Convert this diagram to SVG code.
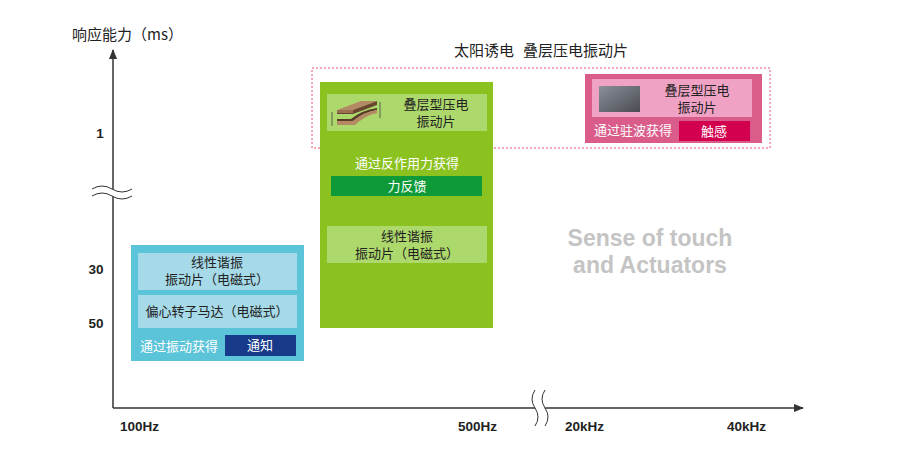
<svg xmlns="http://www.w3.org/2000/svg" width="900" height="450" viewBox="0 0 900 450">
<defs>
<style>
.cn{font-family:"Noto Sans CJK SC","Noto Sans",sans-serif;font-size:13px;fill:#222;}
.cnw{font-family:"Noto Sans CJK SC","Noto Sans",sans-serif;font-size:13px;fill:#fff;}
.big{font-size:15px;}
.ax{font-family:"Liberation Sans",Arial,sans-serif;font-size:13.5px;font-weight:bold;fill:#222;}
.wm{font-family:"Liberation Sans",Arial,sans-serif;font-size:23px;font-weight:bold;fill:#c4c4c4;}
.axis{stroke:#333;stroke-width:1.5;fill:none;}
.wave{stroke:#333;stroke-width:1;fill:none;}
</style>
<marker id="arr" viewBox="0 0 10 10" refX="9" refY="5" markerWidth="7" markerHeight="7" orient="auto-start-reverse">
<path d="M0,1 L10,5 L0,9 z" fill="#333"/>
</marker>
<linearGradient id="gsq" x1="0" y1="0" x2="1" y2="1">
<stop offset="0" stop-color="#8a8f99"/>
<stop offset="1" stop-color="#4a4c52"/>
</linearGradient>
</defs>
<rect width="900" height="450" fill="#fff"/>

<g id="axes">
<line class="axis" x1="113" y1="408" x2="113" y2="50" marker-end="url(#arr)"/>
<line class="axis" x1="113" y1="408" x2="803" y2="408" marker-end="url(#arr)"/>
<path d="M92,189 Q102,183 112,189 T132,189 L132,196 Q122,202 112,196 T92,196 Z" fill="#fff" stroke="none"/>
<path class="wave" d="M92,189 Q102,183 112,189 T132,189"/>
<path class="wave" d="M92,196 Q102,190 112,196 T132,196"/>
<path d="M535,390 Q529,399 535,408 T535,426 L545,426 Q539,417 545,408 T545,390 Z" fill="#fff" stroke="none"/>
<path class="wave" d="M535,390 Q529,399 535,408 T535,426"/>
<path class="wave" d="M545,390 Q539,399 545,408 T545,426"/>
<text x="72" y="40" class="cn big">响应能力（ms）</text>
<text x="100" y="138" class="ax" text-anchor="middle">1</text>
<text x="96" y="274" class="ax" text-anchor="middle">30</text>
<text x="96" y="328" class="ax" text-anchor="middle">50</text>
<text x="120" y="431" class="ax">100Hz</text>
<text x="458" y="431" class="ax">500Hz</text>
<text x="565" y="431" class="ax">20kHz</text>
<text x="727" y="431" class="ax">40kHz</text>
</g>

<g id="title">
<text x="454" y="56" class="cn big">太阳诱电</text>
<text x="523" y="56" class="cn big">叠层压电振动片</text>
<rect x="312" y="68" width="458" height="80" fill="none" stroke="#e8506e" stroke-width="1" stroke-dasharray="2,2"/>
</g>

<g id="blue-group">
<rect x="131" y="245" width="173" height="116" fill="#5bc4d8"/>
<rect x="138" y="253" width="159" height="37" fill="#a6dae8"/>
<text x="217" y="267" class="cn" text-anchor="middle">线性谐振</text>
<text x="217" y="284" class="cn" text-anchor="middle">振动片（电磁式）</text>
<rect x="138" y="295" width="159" height="33" fill="#a6dae8"/>
<text x="217" y="316" class="cn" text-anchor="middle">偏心转子马达（电磁式）</text>
<text x="140" y="351" class="cnw">通过振动获得</text>
<rect x="225" y="335" width="71" height="21" fill="#173a8a"/>
<text x="260" y="350" class="cnw" text-anchor="middle">通知</text>
</g>

<g id="green-group">
<rect x="320" y="82" width="173" height="246" fill="#8cc21f"/>
<rect x="327" y="94" width="160" height="37" fill="#add86c"/>
<g id="piezo-icon">
<path d="M337,110 L361,101 L377,101 L353,110 Z" fill="#b48a64"/>
<path d="M337,110 L353,110 L377,101 L377,105 L353,114 L337,114 Z" fill="#6a4630"/>
<path d="M337,110 L353,110 L353,113 L337,113 Z" fill="#9a7050"/>
<path d="M337,119 L351,119 Q362,110 377,108 L377,110 Q364,112 353,121 L337,121 Z" fill="#5a3a28"/>
<path d="M337,121 L353,121 Q364,112 377,110 L377,113 Q366,115 355,125 L337,125 Z" fill="#b48a64"/>
<line x1="332" y1="112" x2="332" y2="126" stroke="#444" stroke-width="0.8"/>
<line x1="380" y1="102" x2="380" y2="118" stroke="#444" stroke-width="0.8"/>
</g>
<text x="436" y="109" class="cn" text-anchor="middle">叠层型压电</text>
<text x="436" y="126" class="cn" text-anchor="middle">振动片</text>
<text x="407" y="168" class="cnw" text-anchor="middle">通过反作用力获得</text>
<rect x="331" y="176" width="151" height="20" fill="#0f9a3a"/>
<text x="407" y="191" class="cnw" text-anchor="middle">力反馈</text>
<rect x="327" y="226" width="160" height="37" fill="#add86c"/>
<text x="407" y="241" class="cn" text-anchor="middle">线性谐振</text>
<text x="407" y="258" class="cn" text-anchor="middle">振动片（电磁式）</text>
</g>

<g id="pink-group">
<rect x="585" y="74" width="177" height="69" fill="#d95c8a"/>
<rect x="592" y="79" width="160" height="38" fill="#f0a2c5"/>
<rect x="599" y="86" width="41" height="26" fill="url(#gsq)"/>
<text x="697" y="95" class="cn" text-anchor="middle">叠层型压电</text>
<text x="697" y="112" class="cn" text-anchor="middle">振动片</text>
<text x="594" y="135" class="cnw">通过驻波获得</text>
<rect x="679" y="121" width="71" height="20" fill="#d3004f"/>
<text x="714" y="136" class="cnw" text-anchor="middle">触感</text>
</g>

<g id="watermark">
<text x="650" y="246" class="wm" text-anchor="middle">Sense of touch</text>
<text x="650" y="273" class="wm" text-anchor="middle">and Actuators</text>
</g>
</svg>
